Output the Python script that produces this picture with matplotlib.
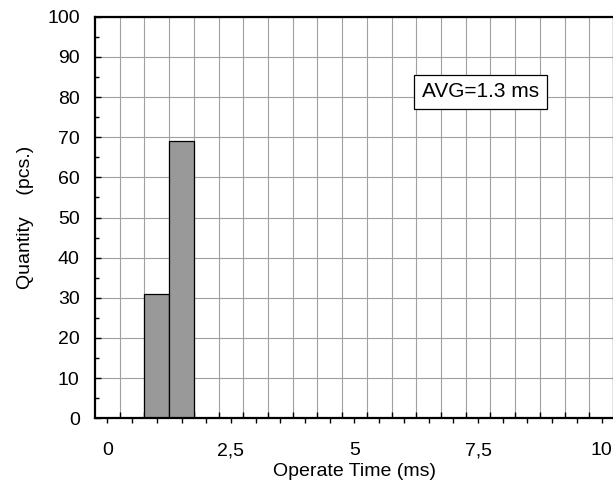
import numpy as np
import matplotlib
matplotlib.use('Agg')
import matplotlib.pyplot as plt
from matplotlib.ticker import FixedLocator, FuncFormatter

# histogram data (bin centres in ms, bin width 0.5 ms)
tiempos = [1.0, 1.5]
cantidades = [31, 69]
ancho_bin = 0.5
etiquetas_x = {0: '0', 2.5: '2,5', 5: '5', 7.5: '7,5', 10: '10'}
texto_promedio = 'AVG=1.3 ms'

plt.rcParams['font.family'] = ['Liberation Sans', 'DejaVu Sans']
plt.rcParams['font.size'] = 14

fig = plt.figure(figsize=(6.13, 4.87), dpi=100)
ax = fig.add_axes([0.155, 0.1411, 0.8466, 0.8245])

ax.bar(tiempos, cantidades, width=ancho_bin, color='#999999',
       edgecolor='black', linewidth=0.9, zorder=2)

ax.set_xlim(-0.25, 10.25)
ax.set_ylim(0, 100)

# x ticks: labelled ticks every 0.5 (outwards), grid ticks in between (inwards)
ax.xaxis.set_major_locator(FixedLocator(np.arange(0, 10.01, 0.5)))
ax.xaxis.set_minor_locator(FixedLocator(np.arange(0.25, 10.3, 0.5)))
ax.xaxis.set_major_formatter(FuncFormatter(
    lambda v, pos: etiquetas_x.get(round(v, 2), '')))
ax.tick_params(axis='x', which='major', direction='out', length=3.6,
               width=1, pad=13.7)
ax.tick_params(axis='x', which='minor', direction='in', length=4.3, width=1)

ax.yaxis.set_major_locator(FixedLocator(np.arange(0, 101, 10)))
ax.yaxis.set_minor_locator(FixedLocator(np.arange(5, 100, 10)))
ax.tick_params(axis='y', which='major', direction='in', length=4.3,
               width=1, pad=11)
ax.tick_params(axis='y', which='minor', direction='in', length=3, width=1)

ax.grid(True, axis='x', which='minor', color='#a0a0a0', linewidth=0.8)
ax.grid(True, axis='y', which='major', color='#a0a0a0', linewidth=0.8)
ax.set_axisbelow(True)

for lado in ['left', 'bottom', 'top', 'right']:
    ax.spines[lado].set_linewidth(1.6)

ax.set_xlabel('Operate Time (ms)', labelpad=3)
ax.set_ylabel('Quantity    (pcs.)', labelpad=9.5)

ax.text(7.55, 81.3, texto_promedio, fontsize=15, ha='center', va='center',
        bbox=dict(boxstyle='square,pad=0.37', facecolor='white',
                  edgecolor='black', linewidth=0.9), zorder=5)

fig.savefig('out.png', dpi=100)
